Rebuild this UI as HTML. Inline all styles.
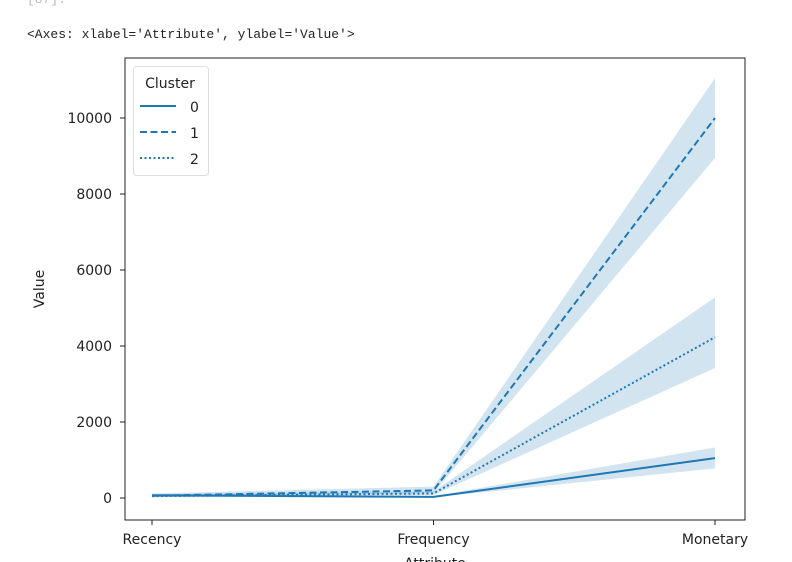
<!DOCTYPE html>
<html><head><meta charset="utf-8"><style>
body{margin:0;background:#fff;width:792px;height:562px;overflow:hidden;font-family:"DejaVu Sans","Liberation Sans",sans-serif}
</style></head><body>
<div style="position:absolute;left:27px;top:27px;font:13px 'Liberation Mono',monospace;color:#222">&lt;Axes: xlabel='Attribute', ylabel='Value'&gt;</div>
<div style="position:absolute;left:27px;top:-8px;font:13px 'Liberation Mono',monospace;color:#bbb">[87]:</div>
<svg id="c" width="792" height="562" style="position:absolute;left:0;top:0"></svg>
<script>
const categories=["Recency","Frequency","Monetary"];
const clusters=["0","1","2"];
const mean0=[70,30,1050];
const mean1=[60,200,10000];
const mean2=[50,120,4230];
const lo0=[40,15,780];const hi0=[110,50,1330];
const lo1=[20,130,8950];const hi1=[120,300,11050];
const lo2=[20,80,3420];const hi2=[100,170,5280];
const yTicks=[0,2000,4000,6000,8000,10000];
const NS="http://www.w3.org/2000/svg",svg=document.getElementById('c');
const L=125,R=745,T=58,B=520;
const x=i=>152+i*(715-152)/(categories.length-1);
const y=v=>498-v*(498-118)/10000;
function mk(t,a,p){const e=document.createElementNS(NS,t);for(const k in a)e.setAttribute(k,a[k]);(p||svg).appendChild(e);return e;}
const means=[mean0,mean1,mean2],los=[lo0,lo1,lo2],his=[hi0,hi1,hi2],dash=["","7,3.5","2,2.5"];
for(let s=0;s<3;s++){
 let pts=categories.map((c,i)=>x(i)+","+y(his[s][i])).concat(categories.map((c,i)=>x(i)+","+y(los[s][i])).reverse());
 const b=mk('polygon',{points:pts.join(' '),fill:'#1f77b4','fill-opacity':0.2,stroke:'none'});
 
 
}
for(let s=0;s<3;s++){
 const l=mk('polyline',{points:categories.map((c,i)=>x(i)+","+y(means[s][i])).join(' '),fill:'none',stroke:'#1f77b4','stroke-width':2,'stroke-dasharray':dash[s]});
 
 
}
const f=mk('rect',{x:L,y:T,width:R-L,height:B-T,fill:'none',stroke:'#222','stroke-width':1});


yTicks.forEach(v=>{
 mk('line',{x1:L-5,x2:L,y1:y(v),y2:y(v),stroke:'#222'});
 const t=mk('text',{x:L-13,y:y(v)+5,'text-anchor':'end','font-size':14,fill:'#222'});t.textContent=v;
 
 
});
categories.forEach((c,i)=>{
 mk('line',{x1:x(i),x2:x(i),y1:B,y2:B+5,stroke:'#222'});
 const t=mk('text',{x:x(i),y:B+24,'text-anchor':'middle','font-size':14,fill:'#222'});t.textContent=c;
 
 
});
const xl=mk('text',{x:(L+R)/2,y:568,'text-anchor':'middle','font-size':14,fill:'#222'});xl.textContent='Attribute';


const yl=mk('text',{x:0,y:0,transform:'translate(44,289) rotate(-90)','text-anchor':'middle','font-size':14,fill:'#222'});yl.textContent='Value';


const lg=mk('g',{});


mk('rect',{x:133.5,y:66.5,width:75,height:109,rx:3,fill:'#fff','fill-opacity':0.8,stroke:'#ddd'},lg);
const lt=mk('text',{x:170,y:88,'text-anchor':'middle','font-size':14,fill:'#222'},lg);lt.textContent='Cluster';
clusters.forEach((c,i)=>{
 const yy=106+i*26;
 mk('line',{x1:140,x2:176,y1:yy,y2:yy,stroke:'#1f77b4','stroke-width':2,'stroke-dasharray':dash[i]},lg);
 const t=mk('text',{x:190,y:yy+6,'font-size':14,fill:'#222'},lg);t.textContent=c;
 
 
});
</script>
</body></html>
